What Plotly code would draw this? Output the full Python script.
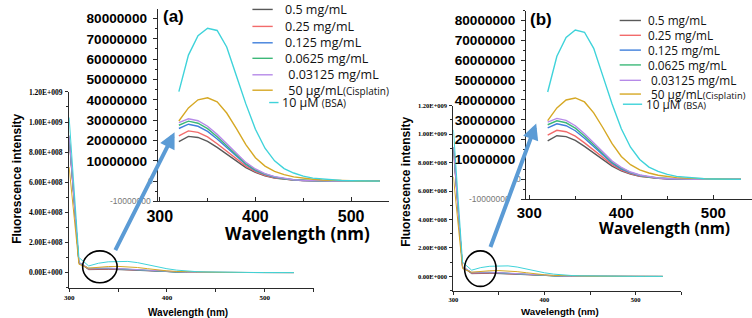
import plotly.graph_objects as go

W, H = 752, 318

# ---------------- data ----------------
wavelength = [300, 310, 320, 330, 340, 350, 360, 370, 380, 390, 400, 410,
              420, 430, 440, 450, 460, 470, 480, 490, 500, 510, 520, 530]
UNIT = 1e6  # values below are in millions (counts)
gray_05 = [890, 65, 19.4, 22.0, 21.5, 19.6, 16.6, 13.3, 9.8, 6.7, 4.3, 2.6,
           1.5, 0.9, 0.5, 0.3, 0.1, 0.05, 0, 0, 0, 0, 0, 0]
red_025 = [890, 66, 22.3, 24.7, 24.0, 21.8, 18.4, 14.7, 10.8, 7.4, 4.7, 2.9,
           1.7, 1.0, 0.5, 0.3, 0.1, 0.05, 0, 0, 0, 0, 0, 0]
blue_0125 = [900, 67, 25.9, 28.0, 27.0, 24.5, 20.7, 16.5, 12.0, 8.2, 5.2, 3.3,
             1.9, 1.1, 0.6, 0.3, 0.2, 0.1, 0, 0, 0, 0, 0, 0]
green_00625 = [910, 68, 27.5, 29.5, 28.5, 25.8, 21.8, 17.4, 12.7, 8.6, 5.6, 3.5,
               2.1, 1.2, 0.7, 0.4, 0.2, 0.1, 0, 0, 0, 0, 0, 0]
purple_003125 = [910, 68, 28.8, 30.7, 29.7, 27.0, 23.0, 18.5, 13.5, 9.2, 6.0, 3.7,
                 2.2, 1.3, 0.7, 0.4, 0.2, 0.1, 0.05, 0, 0, 0, 0, 0]
cisplatin = [700, 55, 29.6, 36.0, 40.0, 41.0, 39.0, 33.5, 26.0, 18.0, 11.5, 7.4,
             4.8, 3.2, 2.1, 1.4, 0.9, 0.6, 0.4, 0.2, 0.1, 0.05, 0, 0]
bsa = [1030, 100, 44.0, 62.0, 71.5, 75.2, 74.1, 66.0, 52.0, 38.0, 25.5, 16.2,
       10.0, 6.2, 4.0, 2.5, 1.5, 1.0, 0.6, 0.3, 0.2, 0.1, 0.05, 0]

series_values = [gray_05, red_025, blue_0125, green_00625, purple_003125, cisplatin, bsa]
series_names = ["0.5 mg/mL", "0.25 mg/mL", "0.125 mg/mL", "0.0625 mg/mL",
                " 0.03125 mg/mL", " 50 µg/mL", "10 µM "]
series_suffix = ["", "", "", "", "", "(Cisplatin)", "(BSA)"]
series_colors = ["#595959", "#f26b6b", "#3f7fdc", "#3cb878", "#b68ae8", "#d6a824", "#3fd3da"]

main_ytick_vals = [0, 2e8, 4e8, 6e8, 8e8, 1e9, 1.2e9]
main_ytick_text = ["0.00E+000", "2.00E+008", "4.00E+008", "6.00E+008",
                   "8.00E+008", "1.00E+009", "1.20E+009"]
inset_ytick_vals = [1e7, 2e7, 3e7, 4e7, 5e7, 6e7, 7e7, 8e7]
inset_ytick_text = ["10000000", "20000000", "30000000", "40000000",
                    "50000000", "60000000", "70000000", "80000000"]
x_tick_vals = [300, 400, 500]
x_tick_text = ["300", "400", "500"]
inset_start = 320


def px(x):
    return x / W


def py(y):
    return (H - y) / H


fig = go.Figure()

# ---------------- traces ----------------
for panel in range(2):
    main_x, main_y = ("x", "y") if panel == 0 else ("x3", "y3")
    ins_x, ins_y = ("x2", "y2") if panel == 0 else ("x4", "y4")
    for vals, name, col in zip(series_values, series_names, series_colors):
        yv = [v * UNIT for v in vals]
        fig.add_trace(go.Scatter(x=wavelength, y=yv, mode="lines", name=name,
                                 line=dict(color=col, width=1.0),
                                 xaxis=main_x, yaxis=main_y, showlegend=False))
        xi = [w for w in wavelength if w >= inset_start]
        yi = [v for w, v in zip(wavelength, yv) if w >= inset_start]
        fig.add_trace(go.Scatter(x=xi, y=yi, mode="lines", name=name,
                                 line=dict(color=col, width=1.4),
                                 xaxis=ins_x, yaxis=ins_y, showlegend=False))

AX = "#2a2a2a"
serif_b = dict(family="Liberation Serif", color="black", weight="bold")
sans_b = dict(family="Liberation Sans", color="black", weight="bold")


def main_axes(xd, yd, yr, ysize, xsize, anchor_x, anchor_y):
    xa = dict(domain=[px(xd[0]), px(xd[1])], range=[300, 550], anchor=anchor_y,
              showline=True, linecolor=AX, linewidth=1, showgrid=False, zeroline=False,
              ticks="outside", ticklen=3, tickcolor=AX, tickvals=x_tick_vals,
              ticktext=x_tick_text, tickfont=dict(serif_b, size=xsize),
              minor=dict(ticks="outside", ticklen=3, tick0=300, dtick=50, tickcolor=AX))
    ya = dict(domain=[py(yd[0]), py(yd[1])], range=yr, anchor=anchor_x,
              showline=True, linecolor=AX, linewidth=1, showgrid=False, zeroline=False,
              ticks="outside", ticklen=3, tickcolor=AX, tickvals=main_ytick_vals,
              ticktext=main_ytick_text, tickfont=dict(serif_b, size=ysize),
              ticklabelstandoff=1,
              minor=dict(ticks="outside", ticklen=2, tick0=0, dtick=1e8, tickcolor=AX))
    return xa, ya


def inset_axes(xd, yd, xr, yr, xsize, ysize, anchor_x, anchor_y):
    xa = dict(domain=[px(xd[0]), px(xd[1])], range=xr, anchor=anchor_y,
              showline=True, linecolor=AX, linewidth=1.2, showgrid=False, zeroline=False,
              ticks="inside", ticklen=4, tickcolor=AX, tickvals=x_tick_vals,
              ticktext=x_tick_text, tickfont=dict(sans_b, size=xsize),
              minor=dict(ticks="inside", ticklen=3, tick0=300, dtick=50, tickcolor=AX))
    ya = dict(domain=[py(yd[0]), py(yd[1])], range=yr, anchor=anchor_x,
              showline=True, linecolor=AX, linewidth=1.2, showgrid=False, zeroline=False,
              ticks="outside", ticklen=4, tickcolor=AX,
              tickvals=[-1e7, 0] + inset_ytick_vals,
              ticktext=["", ""] + inset_ytick_text, tickfont=dict(sans_b, size=ysize),
              ticklabelstandoff=3,
              minor=dict(ticks="outside", ticklen=2, tick0=0, dtick=5e6, tickcolor=AX))
    return xa, ya


xa1, ya1 = main_axes((59, 307), (287.7, 89), [-1.03e8, 1.2e9], 7.5, 7, "x", "y")
xa2, ya2 = inset_axes((149, 384), (200, 5), [298, 540], [-1e7, 8.47e7], 16, 13.6, "x2", "y2")
xa3, ya3 = main_axes((449, 680), (290.3, 103), [-1e8, 1.2e9], 6.5, 6.5, "x3", "y3")
xa4, ya4 = inset_axes((522.7, 752), (197.7, 6.7), [296.5, 542], [-1e7, 8.5e7], 15, 13.6, "x4", "y4")

annotations = []
shapes = []


def txt(x, y, text, size, family="Liberation Sans", bold=True, xanchor="center",
        angle=0, color="black"):
    annotations.append(dict(x=px(x), y=py(y), xref="paper", yref="paper", text=text,
                            showarrow=False, xanchor=xanchor, yanchor="middle",
                            textangle=angle,
                            font=dict(family=family, size=size, color=color,
                                      weight="bold" if bold else "normal")))


# axis titles
txt(6.7, 177.5, "Fluorescence intensity", 12, angle=-90)
txt(180, 312.7, "Wavelength (nm)", 10)
txt(401, 180, "Fluorescence intensity", 12, angle=-90)
txt(557, 311.7, "Wavelength (nm)", 9.7)
txt(291, 232.5, "Wavelength (nm)", 17, family="Open Sans")
txt(662.7, 227.5, "Wavelength (nm)", 15.4, family="Open Sans")

# small inset labels for 0 and -10000000
txt(146, 179.3, "0", 8.5, bold=False, xanchor="right", color="#777")
txt(144, 200, "-10000000", 8.5, bold=False, xanchor="right", color="#777")
txt(520, 177.6, "0", 8.5, bold=False, xanchor="right", color="#777")
txt(508, 197.7, "-10000000", 8.5, bold=False, xanchor="right", color="#777")

# panel labels
txt(165, 13, "(a)", 17)
txt(537.7, 16, "(b)", 17)

# manual legends
legend_cfg = [
    dict(rows=[5.5, 22.7, 39.3, 55, 71.7, 87.3, 99.8], lx=(245, 265.6), lx_last=(262, 271.5),
         tx=[275.7, 275.7, 275.7, 275.7, 275.7, 275.7, 272.5], size=12.5),
    dict(rows=[16.7, 31.7, 46.7, 61.7, 77.3, 91.2, 101.5], lx=(617.7, 639.3), lx_last=(621, 640.5),
         tx=[644.3, 644.3, 644.3, 644.3, 644.3, 644.3, 642.5], size=11.8),
]
for cfg in legend_cfg:
    for i, (name, suf, col) in enumerate(zip(series_names, series_suffix, series_colors)):
        yrow = cfg["rows"][i]
        x0, x1 = cfg["lx_last"] if i == len(series_names) - 1 else cfg["lx"]
        shapes.append(dict(type="line", xref="paper", yref="paper",
                           x0=px(x0), x1=px(x1), y0=py(yrow), y1=py(yrow),
                           line=dict(color=col, width=1.4)))
        label = name
        if suf:
            label += f"<span style='font-size:{cfg['size'] - 2.5}px'>{suf}</span>"
        txt(cfg["tx"][i], yrow, label, cfg["size"], family="Open Sans", bold=False,
            xanchor="left", color="#111")

# circles
for (x0, x1, y0, y1) in [(72.7, 107.7, 250, 282.3), (460.3, 492.3, 250, 286)]:
    shapes.append(dict(type="circle", xref="paper", yref="paper",
                       x0=px(x0), x1=px(x1), y0=py(y1), y1=py(y0),
                       line=dict(color="black", width=1.6)))

# arrows (tail -> tip)
for (tx_, ty_, hx, hy) in [(106, 249.3, 166, 130), (486.7, 246, 533, 121)]:
    annotations.append(dict(x=px(hx), y=py(hy), xref="paper", yref="paper",
                            ax=tx_ - hx, ay=ty_ - hy, text="", showarrow=True,
                            arrowhead=2, arrowsize=0.8, arrowwidth=4,
                            arrowcolor="#5b9bd5"))

fig.update_layout(
    width=W, height=H, margin=dict(l=0, r=0, t=0, b=0),
    paper_bgcolor="white", plot_bgcolor="rgba(0,0,0,0)", showlegend=False,
    xaxis=xa1, yaxis=ya1, xaxis2=xa2, yaxis2=ya2,
    xaxis3=xa3, yaxis3=ya3, xaxis4=xa4, yaxis4=ya4,
    annotations=annotations, shapes=shapes,
)

fig.write_html("out.html", config={"displayModeBar": False},
               post_script="document.body.style.margin='0';document.body.style.overflow='hidden';")
